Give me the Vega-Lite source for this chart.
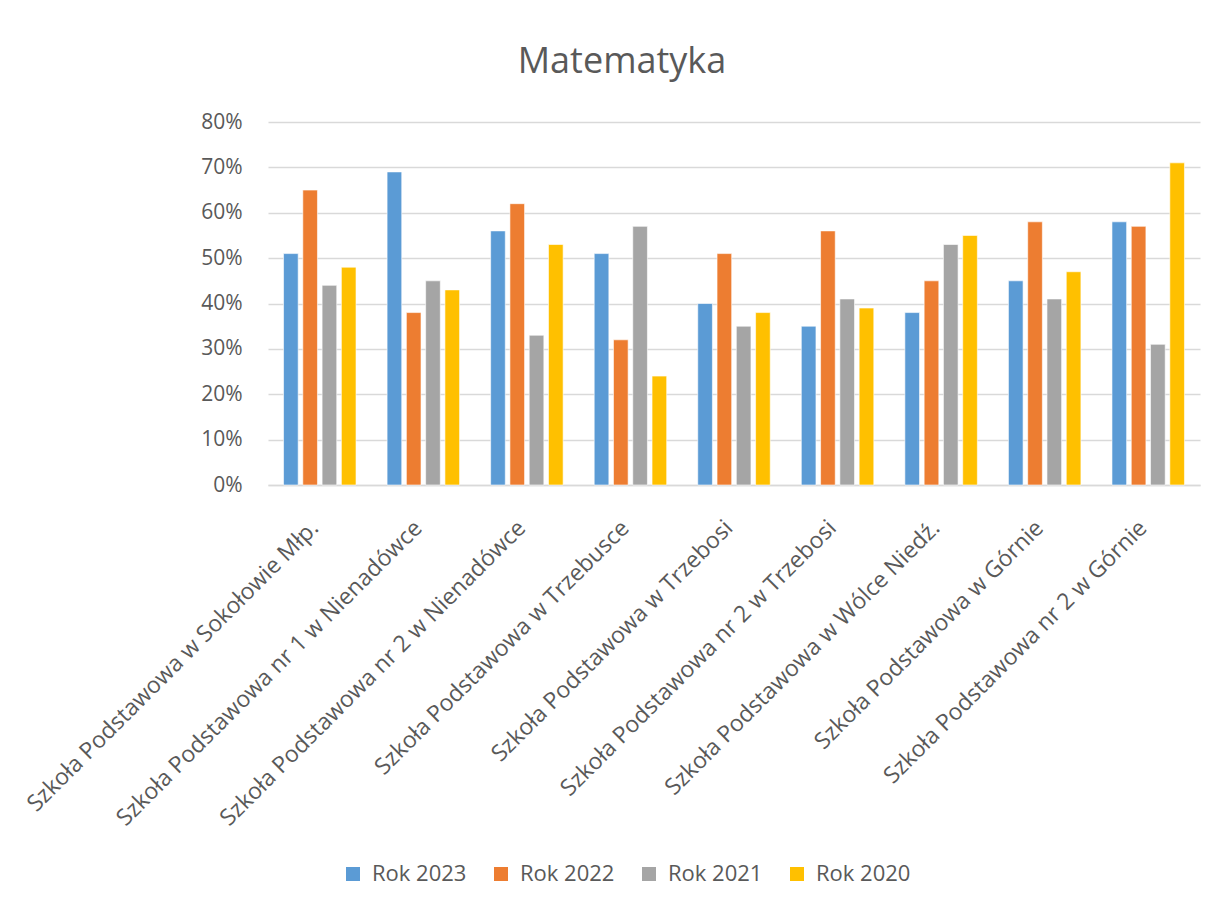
{
  "$schema": "https://vega.github.io/schema/vega-lite/v6.json",
  "width": 932,
  "height": 363,
  "autosize": {"type": "none"},
  "padding": {"left": 268, "top": 122, "right": 20, "bottom": 424},
  "background": "white",
  "title": {"text": "Matematyka", "fontSize": 36, "font": "Open Sans", "fontWeight": "normal", "color": "#595959", "offset": 30, "dx": -112, "anchor": "middle"},
  "config": {"view": {"stroke": null}},
  "data": {"values": [
    {"school": "Szkoła Podstawowa w Sokołowie Młp.", "year": "Rok 2023", "value": 0.51},
    {"school": "Szkoła Podstawowa w Sokołowie Młp.", "year": "Rok 2022", "value": 0.65},
    {"school": "Szkoła Podstawowa w Sokołowie Młp.", "year": "Rok 2021", "value": 0.44},
    {"school": "Szkoła Podstawowa w Sokołowie Młp.", "year": "Rok 2020", "value": 0.48},
    {"school": "Szkoła Podstawowa nr 1 w Nienadówce", "year": "Rok 2023", "value": 0.69},
    {"school": "Szkoła Podstawowa nr 1 w Nienadówce", "year": "Rok 2022", "value": 0.38},
    {"school": "Szkoła Podstawowa nr 1 w Nienadówce", "year": "Rok 2021", "value": 0.45},
    {"school": "Szkoła Podstawowa nr 1 w Nienadówce", "year": "Rok 2020", "value": 0.43},
    {"school": "Szkoła Podstawowa nr 2 w Nienadówce", "year": "Rok 2023", "value": 0.56},
    {"school": "Szkoła Podstawowa nr 2 w Nienadówce", "year": "Rok 2022", "value": 0.62},
    {"school": "Szkoła Podstawowa nr 2 w Nienadówce", "year": "Rok 2021", "value": 0.33},
    {"school": "Szkoła Podstawowa nr 2 w Nienadówce", "year": "Rok 2020", "value": 0.53},
    {"school": "Szkoła Podstawowa w Trzebusce", "year": "Rok 2023", "value": 0.51},
    {"school": "Szkoła Podstawowa w Trzebusce", "year": "Rok 2022", "value": 0.32},
    {"school": "Szkoła Podstawowa w Trzebusce", "year": "Rok 2021", "value": 0.57},
    {"school": "Szkoła Podstawowa w Trzebusce", "year": "Rok 2020", "value": 0.24},
    {"school": "Szkoła Podstawowa w Trzebosi", "year": "Rok 2023", "value": 0.40},
    {"school": "Szkoła Podstawowa w Trzebosi", "year": "Rok 2022", "value": 0.51},
    {"school": "Szkoła Podstawowa w Trzebosi", "year": "Rok 2021", "value": 0.35},
    {"school": "Szkoła Podstawowa w Trzebosi", "year": "Rok 2020", "value": 0.38},
    {"school": "Szkoła Podstawowa nr 2 w Trzebosi", "year": "Rok 2023", "value": 0.35},
    {"school": "Szkoła Podstawowa nr 2 w Trzebosi", "year": "Rok 2022", "value": 0.56},
    {"school": "Szkoła Podstawowa nr 2 w Trzebosi", "year": "Rok 2021", "value": 0.41},
    {"school": "Szkoła Podstawowa nr 2 w Trzebosi", "year": "Rok 2020", "value": 0.39},
    {"school": "Szkoła Podstawowa w Wólce Niedź.", "year": "Rok 2023", "value": 0.38},
    {"school": "Szkoła Podstawowa w Wólce Niedź.", "year": "Rok 2022", "value": 0.45},
    {"school": "Szkoła Podstawowa w Wólce Niedź.", "year": "Rok 2021", "value": 0.53},
    {"school": "Szkoła Podstawowa w Wólce Niedź.", "year": "Rok 2020", "value": 0.55},
    {"school": "Szkoła Podstawowa w Górnie", "year": "Rok 2023", "value": 0.45},
    {"school": "Szkoła Podstawowa w Górnie", "year": "Rok 2022", "value": 0.58},
    {"school": "Szkoła Podstawowa w Górnie", "year": "Rok 2021", "value": 0.41},
    {"school": "Szkoła Podstawowa w Górnie", "year": "Rok 2020", "value": 0.47},
    {"school": "Szkoła Podstawowa nr 2 w Górnie", "year": "Rok 2023", "value": 0.58},
    {"school": "Szkoła Podstawowa nr 2 w Górnie", "year": "Rok 2022", "value": 0.57},
    {"school": "Szkoła Podstawowa nr 2 w Górnie", "year": "Rok 2021", "value": 0.31},
    {"school": "Szkoła Podstawowa nr 2 w Górnie", "year": "Rok 2020", "value": 0.71}
  ]},
  "mark": {"type": "bar", "stroke": "white", "strokeWidth": 0.6},
  "encoding": {
    "x": {
      "field": "school", "type": "nominal", "sort": null,
      "scale": {"paddingInner": 0.3, "paddingOuter": 0.15},
      "axis": {"title": null, "labelAngle": -45, "labelAlign": "right", "labelBaseline": "alphabetic", "labelFontSize": 23, "labelFont": "Open Sans", "labelColor": "#595959", "ticks": false, "domainColor": "#d9d9d9", "domainWidth": 1.5, "labelPadding": 44, "labelLimit": 0, "labelOverlap": false}
    },
    "xOffset": {
      "field": "year", "type": "nominal", "sort": ["Rok 2023", "Rok 2022", "Rok 2021", "Rok 2020"],
      "scale": {"paddingInner": 0.24, "paddingOuter": 0}
    },
    "y": {
      "field": "value", "type": "quantitative",
      "scale": {"domain": [0, 0.8]},
      "axis": {"title": null, "format": ".0%", "values": [0, 0.1, 0.2, 0.3, 0.4, 0.5, 0.6, 0.7, 0.8], "domain": false, "ticks": false, "labelPadding": 26, "labelFontSize": 21, "labelFont": "Open Sans", "labelColor": "#595959", "gridColor": "#d9d9d9", "gridWidth": 1.5}
    },
    "color": {
      "field": "year", "type": "nominal", "sort": ["Rok 2023", "Rok 2022", "Rok 2021", "Rok 2020"],
      "scale": {"domain": ["Rok 2023", "Rok 2022", "Rok 2021", "Rok 2020"], "range": ["#5B9BD5", "#ED7D31", "#A5A5A5", "#FFC000"]},
      "legend": {"orient": "none", "legendX": 74, "legendY": 741, "direction": "horizontal", "title": null, "symbolType": "square", "symbolSize": 196, "symbolStrokeWidth": 0, "labelFontSize": 22, "labelFont": "Open Sans", "labelColor": "#595959", "labelOffset": 8, "columnPadding": 23}
    }
  }
}
